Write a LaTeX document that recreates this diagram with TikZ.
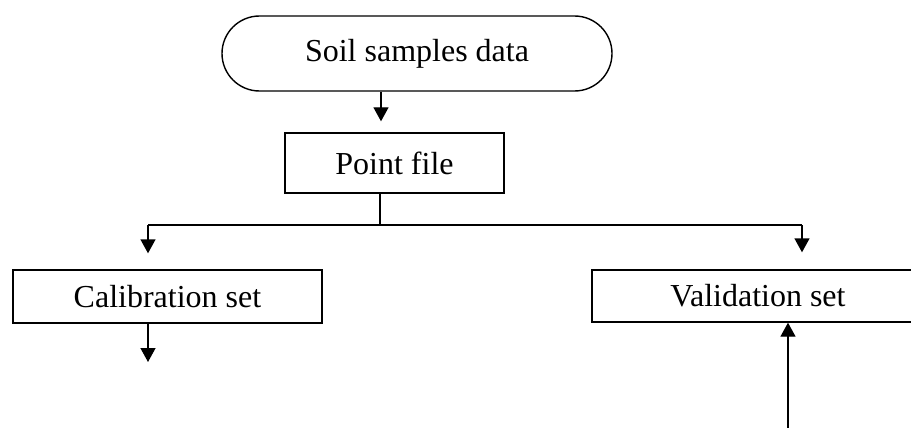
\documentclass[tikz,border=0pt]{standalone}
\usepackage{fontspec}
\setmainfont{Liberation Serif}
\usetikzlibrary{arrows.meta,shapes.misc}
\begin{document}
\begin{tikzpicture}[x=1pt,y=-1pt,
  line width=1.4pt,
  txt/.style={font=\fontsize{32}{38}\selectfont, inner sep=0pt},
  box/.style={txt, draw, rectangle},
  term/.style={txt, draw, rounded rectangle, rounded rectangle arc length=180},
  arr/.style={-{Triangle[width=15pt,length=14pt]}}
]
\useasboundingbox (0,0) rectangle (911,428);
\clip (0,0) rectangle (911,428);
\node[term, minimum width=390pt, minimum height=75pt] (soil) at (417,53.5) {Soil samples data};
\node[box, minimum width=219pt, minimum height=60pt] (pf) at (394.5,163) {Point file};
\node[box, minimum width=309pt, minimum height=53pt] (cal) at (167.5,296.5) {Calibration set};
\node[box, minimum width=332pt, minimum height=52pt] (val) at (758,296) {Validation set};
\coordinate (jn) at (380,225);
\coordinate (jl) at (148,225);
\coordinate (jr) at (802,225);
\coordinate (calout) at (148,362);
\coordinate (valin) at (788,430);
\draw[arr, shorten >=11pt] (soil.south -| 381,0) -- (pf.north -| 381,0);
\draw (pf.south -| jn) -- (jn);
\draw (jl) -- (jr);
\draw[arr, shorten >=16pt] (jl) -- (cal.north -| jl);
\draw[arr, shorten >=17pt] (jr) -- (val.north -| jr);
\draw[arr] (cal.south -| calout) -- (calout);
\draw[arr] (valin) -- (val.south -| valin);
\end{tikzpicture}
\end{document}
